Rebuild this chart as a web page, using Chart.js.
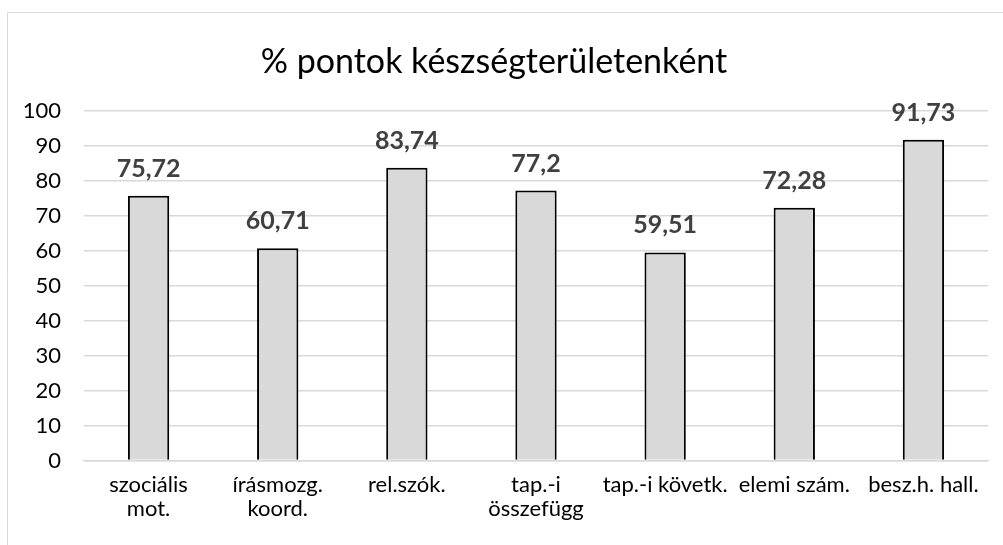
<!DOCTYPE html>
<html>
<head>
<meta charset="utf-8">
<script src="https://cdn.jsdelivr.net/npm/chart.js@4.4.1/dist/chart.umd.min.js"></script>
<style>
  html, body { margin: 0; padding: 0; background: #fff; }
  #wrap { width: 1003px; height: 545px; position: relative; }
</style>
</head>
<body>
<div id="wrap"><canvas id="chart" width="1003" height="545"></canvas></div>
<script>
// adatok
const kategoriak = [
  ["szociális", "mot."],
  ["írásmozg.", "koord."],
  "rel.szók.",
  ["tap.-i", "összefügg"],
  "tap.-i követk.",
  "elemi szám.",
  "besz.h. hall."
];
const pontok = [75.72, 60.71, 83.74, 77.2, 59.51, 72.28, 91.73];
const cim = "% pontok készségterületenként";

// keret + adatfeliratok
const keret = {
  id: "keret",
  beforeDraw(chart) {
    const ctx = chart.ctx;
    ctx.save();
    ctx.fillStyle = "#fff";
    ctx.fillRect(0, 0, chart.width, chart.height);
    ctx.strokeStyle = "#d9d9d9";
    ctx.lineWidth = 1;
    ctx.beginPath();
    ctx.moveTo(7.5, chart.height);
    ctx.lineTo(7.5, 12.5);
    ctx.lineTo(chart.width, 12.5);
    ctx.stroke();
    ctx.restore();
  }
};

const feliratok = {
  id: "feliratok",
  afterDatasetsDraw(chart) {
    const ctx = chart.ctx;
    const meta = chart.getDatasetMeta(0);
    ctx.save();
    ctx.font = "bold 25px Lato";
    ctx.fillStyle = "#404040";
    ctx.textAlign = "center";
    ctx.textBaseline = "alphabetic";
    meta.data.forEach((bar, i) => {
      const txt = String(pontok[i]).replace(".", ",");
      ctx.fillText(txt, bar.x, bar.y - 19);
    });
    ctx.restore();
  }
};

new Chart(document.getElementById("chart"), {
  type: "bar",
  data: {
    labels: kategoriak,
    datasets: [{
      data: pontok,
      backgroundColor: "#d9d9d9",
      borderColor: "#000",
      borderWidth: 2,
      borderSkipped: "bottom",
      categoryPercentage: 1,
      barPercentage: 0.32
    }]
  },
  options: {
    responsive: false,
    animation: false,
    layout: { padding: { top: 42, right: 15, left: 0, bottom: 20 } },
    plugins: {
      legend: { display: false },
      tooltip: { enabled: false },
      title: {
        display: true,
        text: cim,
        color: "#000",
        font: { family: "Lato", size: 34, weight: "normal" },
        padding: { top: 0, bottom: 28 }
      }
    },
    scales: {
      y: {
        min: 0,
        max: 100,
        ticks: {
          stepSize: 10,
          color: "#000",
          font: { family: "Lato", size: 22 },
          padding: 23
        },
        grid: { color: "#d9d9d9", lineWidth: 1.5, drawTicks: false },
        border: { display: false },
        afterFit(scale) { scale.width = 84; }
      },
      x: {
        ticks: {
          color: "#000",
          font: { family: "Lato", size: 22, lineHeight: 1.1 },
          maxRotation: 0,
          autoSkip: false,
          padding: 4
        },
        grid: { display: false },
        border: { display: true, color: "#d9d9d9", width: 1.5 }
      }
    }
  },
  plugins: [keret, feliratok]
});
</script>
</body>
</html>
